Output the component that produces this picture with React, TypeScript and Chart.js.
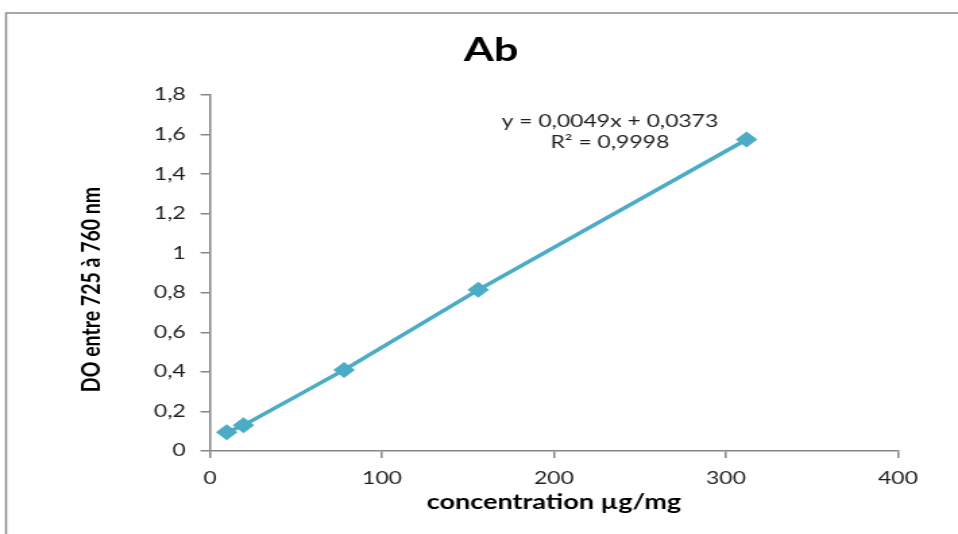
import React, { useEffect, useRef } from 'react';
import { Chart, registerables } from 'chart.js';

Chart.register(...registerables);

// ---- data ----
const concentrations = [9.75, 19.5, 78, 156, 312];
const absorbances = [0.095, 0.13, 0.41, 0.815, 1.575];
const xTickValues = [0, 100, 200, 300, 400];
const yTickLabels = ['0', '0,2', '0,4', '0,6', '0,8', '1', '1,2', '1,4', '1,6', '1,8'];
const chartTitle = 'Ab';
const xAxisTitle = 'concentration µg/mg';
const yAxisTitle = 'DO entre 725 à 760 nm';
const equationLines = ['y = 0,0049x + 0,0373', 'R² = 0,9998'];
const equationAnchor = { x: 232.5, y: 1.666 };

const CANVAS_W = 710;
const CANVAS_H = 534;
const SERIES_COLOR = '#4BACC6';
const AXIS_COLOR = '#868686';
const TEXT_COLOR = '#1f1f1f';

const framePlugin = {
  id: 'frame',
  beforeDraw(chart: any) {
    const ctx = chart.ctx;
    ctx.save();
    ctx.strokeStyle = '#8a8a8a';
    ctx.lineWidth = 1.5;
    ctx.strokeRect(4.5, 13, 2000, 2000);
    ctx.restore();
  },
};

const yTitlePlugin = {
  id: 'yTitle',
  afterDraw(chart: any) {
    const ctx = chart.ctx;
    ctx.save();
    ctx.translate(68.2, 289.5);
    ctx.rotate(-Math.PI / 2);
    ctx.font = 'bold 19.5px Lato';
    ctx.fillStyle = '#000';
    ctx.textAlign = 'center';
    ctx.textBaseline = 'middle';
    ctx.fillText(yAxisTitle, 0, 0);
    ctx.restore();
  },
};

const equationPlugin = {
  id: 'equation',
  afterDraw(chart: any) {
    const ctx = chart.ctx;
    const px = chart.scales.x.getPixelForValue(equationAnchor.x);
    const py = chart.scales.y.getPixelForValue(equationAnchor.y);
    ctx.save();
    ctx.font = '17px Lato';
    ctx.fillStyle = TEXT_COLOR;
    ctx.textAlign = 'center';
    ctx.textBaseline = 'middle';
    equationLines.forEach((line, i) => ctx.fillText(line, px, py + i * 21.5));
    ctx.restore();
  },
};

export default function App() {
  const canvasRef = useRef<HTMLCanvasElement | null>(null);

  useEffect(() => {
    if (!canvasRef.current) return;
    const points = concentrations.map((c, i) => ({ x: c, y: absorbances[i] }));
    const chart = new Chart(canvasRef.current, {
      type: 'scatter',
      data: {
        datasets: [
          {
            data: points,
            showLine: true,
            borderColor: SERIES_COLOR,
            backgroundColor: SERIES_COLOR,
            borderWidth: 3.5,
            pointStyle: 'rectRot',
            pointRadius: 8,
            pointBorderWidth: 0,
          },
        ],
      },
      options: {
        responsive: false,
        animation: false,
        layout: { padding: { left: 62.5, right: 44.5, top: 0, bottom: 0 } },
        plugins: {
          legend: { display: false },
          tooltip: { enabled: false },
          title: {
            display: true,
            text: chartTitle,
            color: '#000',
            font: { family: 'Lato', size: 32, weight: 'bold', lineHeight: 1.2 },
            padding: { top: 31, bottom: 25.6 },
          },
        },
        scales: {
          x: {
            type: 'linear',
            min: 0,
            max: 400,
            afterBuildTicks: (scale: any) => {
              scale.ticks = xTickValues.map((v) => ({ value: v }));
            },
            afterFit: (scale: any) => {
              scale.height = 83;
            },
            grid: { display: true, drawOnChartArea: false, drawTicks: true, tickLength: 7, color: AXIS_COLOR, lineWidth: 1.5 },
            border: { display: true, color: AXIS_COLOR, width: 1.5 },
            ticks: {
              color: TEXT_COLOR,
              padding: 10.5,
              font: { family: 'Lato', size: 17 },
              callback: (v: any) => String(v),
            },
            title: {
              display: true,
              text: xAxisTitle,
              color: '#000',
              font: { family: 'Lato', size: 20, weight: 'bold', lineHeight: 1.2 },
              padding: { top: 0, bottom: 19.5 },
            },
          },
          y: {
            type: 'linear',
            min: 0,
            max: 1.8,
            ticks: {
              stepSize: 0.2,
              color: TEXT_COLOR,
              padding: 11,
              font: { family: 'Lato', size: 17 },
              callback: (_v: any, i: number) => yTickLabels[i],
            },
            afterFit: (scale: any) => {
              scale.width = 93.1;
            },
            grid: { display: true, drawOnChartArea: false, drawTicks: true, tickLength: 7, color: AXIS_COLOR, lineWidth: 1.5 },
            border: { display: true, color: AXIS_COLOR, width: 1.5 },
            title: { display: false, text: yAxisTitle },
          },
        },
      },
      plugins: [framePlugin, yTitlePlugin, equationPlugin],
    });
    return () => chart.destroy();
  }, []);

  return (
    <canvas
      ref={canvasRef}
      width={CANVAS_W}
      height={CANVAS_H}
      style={{ position: 'fixed', left: 0, top: 0, width: '958px', height: '534px', display: 'block' }}
    />
  );
}
